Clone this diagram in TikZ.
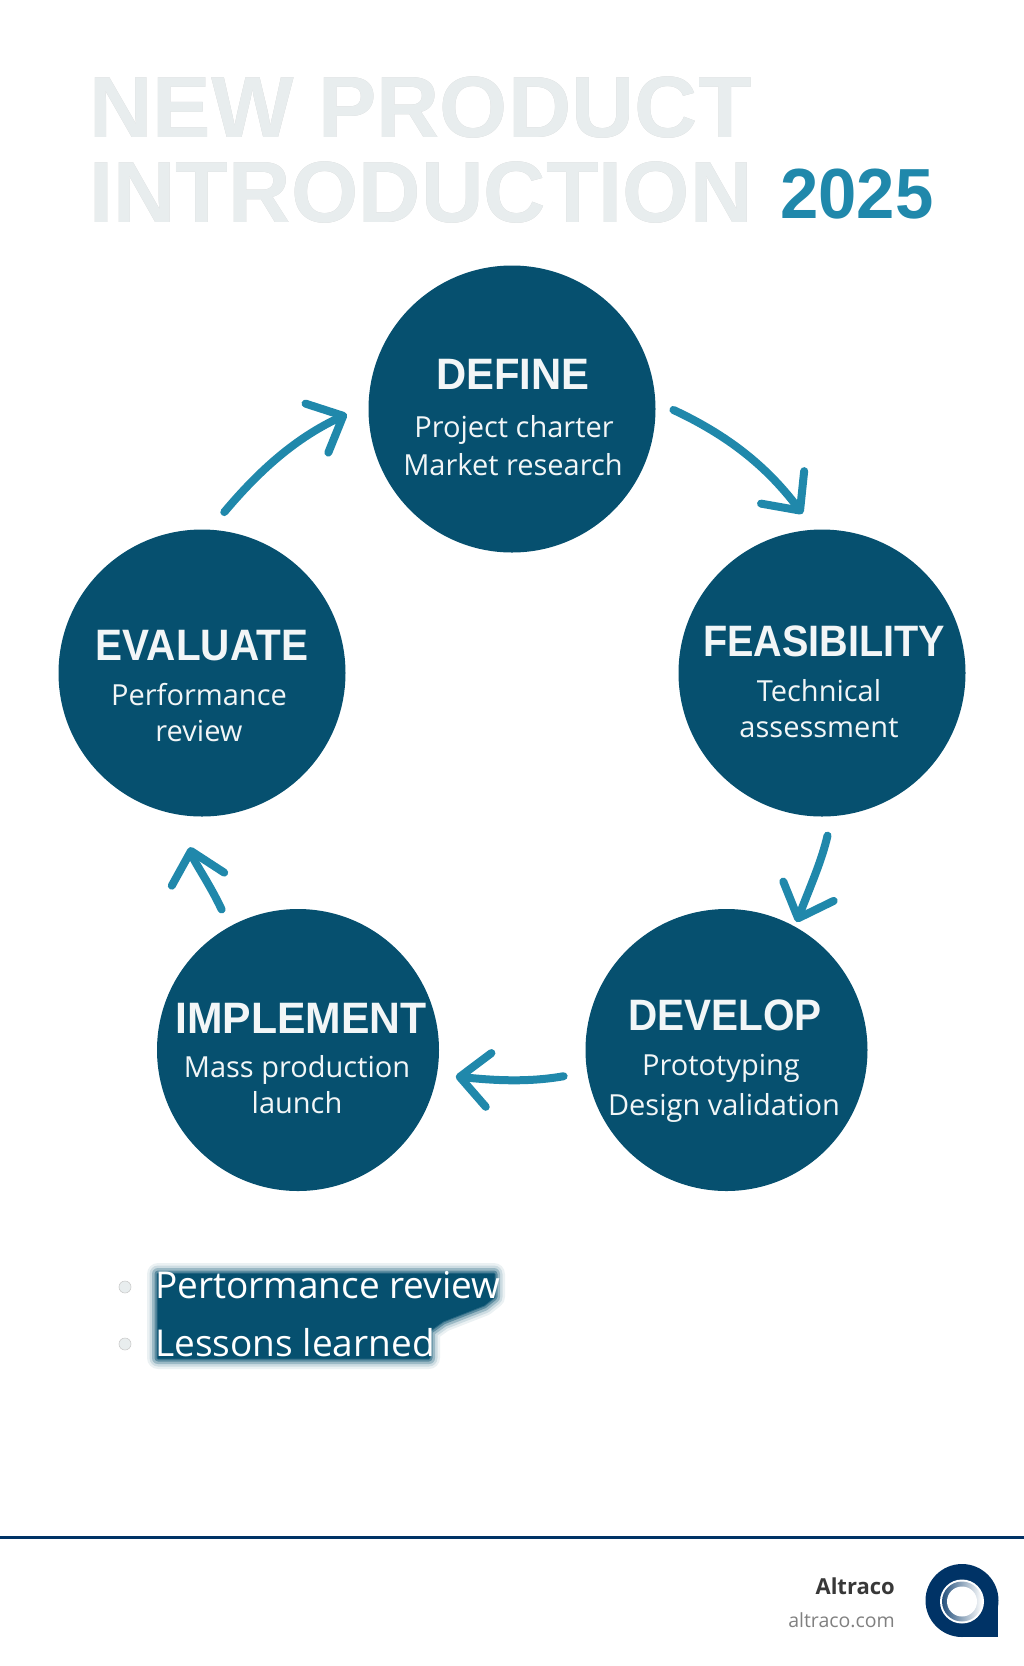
\documentclass[tikz,border=0pt]{standalone}
\usepackage{fontspec}
\usepackage[outline]{contour}
\usetikzlibrary{arrows.meta}
\setmainfont{Open Sans}
\newfontfamily\titlefont{Liberation Sans}
\definecolor{stepblue}{HTML}{06506F}
\definecolor{arrowblue}{HTML}{2088AB}
\definecolor{titlegray}{HTML}{E8EDEE}
\definecolor{navy}{HTML}{003366}
\definecolor{textwhite}{HTML}{F2F6F7}
\newcommand{\fsize}[1]{\fontsize{#1}{#1}\selectfont}
\contourlength{0.5pt}
\begin{document}
\begin{tikzpicture}[x=1pt, y=-1pt, line join=round, line cap=round,
	stepcircle/.style={circle, fill=stepblue, inner sep=0pt, outer sep=0pt},
	steptitle/.style={anchor=base, text=textwhite, inner sep=0pt, transform shape, font=\titlefont\fsize{44}\bfseries},
	steptext/.style={anchor=base, text=textwhite, inner sep=0pt, font=\fsize{29}},
	bigtitle/.style={anchor=base west, text=titlegray, inner sep=0pt, transform shape, font=\titlefont\fsize{87}\bfseries},
	flowarrow/.style={draw=arrowblue, line width=8pt, -{Straight Barb[round, length=29pt, width=54pt, line width=8pt]}},
	bulletdot/.style={circle, fill=titlegray, draw=black!20, line width=0.6pt, minimum size=12pt, inner sep=0pt},
	bullettext/.style={anchor=base west, text=white, inner sep=0pt, font=\fsize{37}}]
	\useasboundingbox (0,0) rectangle (1024,1666);
	% heading
	\node[bigtitle, xscale=1.008] (titleA) at (89,137) {\contour{black!18}{NEW PRODUCT}};
	\node[bigtitle, xscale=0.995] (titleB) at (89,222) {\contour{black!18}{INTRODUCTION}};
	\node[anchor=base west, inner sep=0pt, text=arrowblue, transform shape, xscale=0.97, font=\titlefont\fsize{71}\bfseries] (year) at (780,218) {2025};
	% the five steps
	\foreach \n/\x/\y/\d in {define/512/409/287,feasibility/822/673/287,develop/726.5/1050/282,implement/298/1050/282,evaluate/202/673/287}{
		\node[stepcircle, minimum size=\d pt] (\n) at (\x,\y) {};}
	\foreach \n/\x/\y/\f/\t in {titleDefine/513/389/0.95/DEFINE,titleFeas/824/656/0.90/FEASIBILITY,titleDev/725/1030/0.92/DEVELOP,titleImpl/301/1033/0.97/IMPLEMENT,titleEval/202/660/0.92/EVALUATE}{
		\node[steptitle, xscale=\f] (\n) at (\x,\y) {\t};}
	\foreach \n/\x/\y/\t in {defA/514/437/Project charter,defB/513/475/Market research,feasA/819/701/Technical,feasB/819/737/assessment,devA/721/1075/Prototyping,devB/724/1115/Design validation,implA/297/1077/Mass production,implB/297/1113/launch,evalA/199/705/Performance,evalB/199/741/review}{
		\node[steptext] (\n) at (\x,\y) {\t};}
	% arrows between the steps
	\foreach \a/\aa/\o/\b/\bb/\i/\s/\e in {define/3/-25/feasibility/93/127/20/20,feasibility/-86/-103/develop/61/69/20/5,develop/189/190/implement/-10/-6/24/19,implement/119/115/evaluate/-98/-76/19/33,evaluate/87/50/define/178/205/23/24}{
		\draw[flowarrow, shorten <=\s pt, shorten >=\e pt] (\a.\aa) to[out=\o, in=\i] (\b.\bb);}
	% bullets on the dark patch
	\foreach \w/\c in {22/8,17/20,12/40,7/65,3/85,1/100}{
		\fill[stepblue!\c, draw=stepblue!\c, line width=\w pt] (158,1274) -- (494,1274) -- (494,1297) -- (484,1305) -- (443,1321) -- (429,1331) -- (429,1358) -- (158,1358) -- cycle;}
	\node[bulletdot] (dotA) at (125,1287) {};
	\node[bulletdot] (dotB) at (125,1344) {};
	\node[bullettext] (itemA) at (155,1298) {Pertormance review};
	\node[bullettext] (itemB) at (155,1356) {Lessons learned};
	% footer
	\coordinate (footL) at (0,1537);
	\coordinate (footR) at (1024,1537);
	\draw[navy, line width=3pt, line cap=butt] (footL) -- (footR);
	\node[anchor=base east, inner sep=0pt, text=black!78, font=\fsize{22}\bfseries] (brand) at (895,1594) {Altraco};
	\node[anchor=base east, inner sep=0pt, text=black!50, font=\fsize{19.5}] (site) at (895,1627) {altraco.com};
	% logo
	\fill[navy] (962,1600.5) circle (36.5);
	\fill[navy] (962,1600.5) rectangle (998,1637);
	\fill[white] (962,1601.5) circle (22);
	\shade[left color=navy!85, right color=white] (962,1601.5) circle (20);
	\fill[white] (962,1601.5) circle (15);
\end{tikzpicture}
\end{document}
